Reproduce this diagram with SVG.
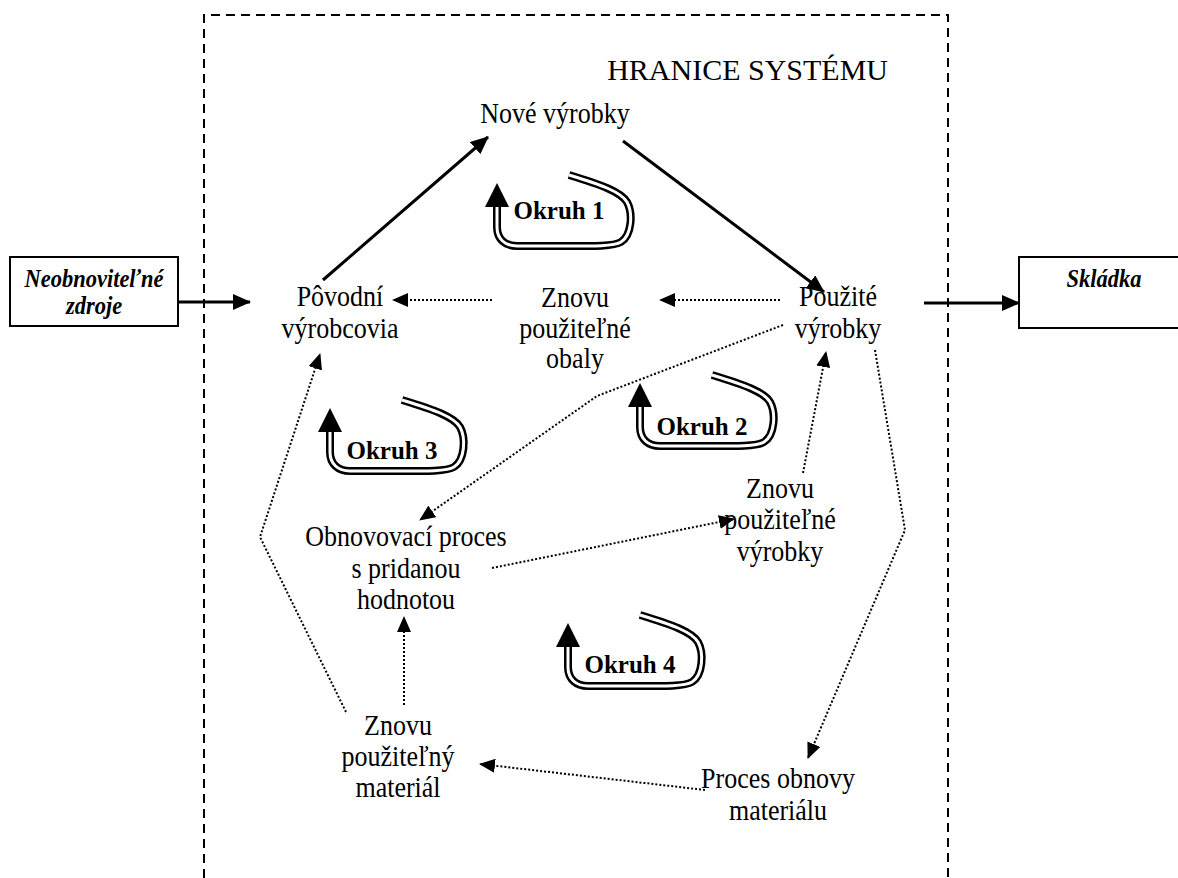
<svg xmlns="http://www.w3.org/2000/svg" xmlns:xlink="http://www.w3.org/1999/xlink" width="1178" height="878" viewBox="0 0 1178 878">
<style>
.n{font-family:"Liberation Serif","Times New Roman",serif;font-size:26px;fill:#000;text-anchor:middle}
.b{font-family:"Liberation Serif","Times New Roman",serif;font-size:22.5px;font-weight:bold;font-style:italic;fill:#000;text-anchor:middle}
.k{font-family:"Liberation Serif","Times New Roman",serif;font-size:25px;font-weight:bold;fill:#000;text-anchor:middle}
.t{font-family:"Liberation Serif","Times New Roman",serif;font-size:30px;fill:#000;text-anchor:end}
.solid{stroke:#000;stroke-width:3;fill:none}
.dot{stroke:#000;stroke-width:2;stroke-dasharray:2 2;fill:none}
.box{fill:#fff;stroke:#000;stroke-width:2}
.lo{stroke:#000;stroke-width:8;fill:none}
.li{stroke:#fff;stroke-width:3;fill:none}
</style>
<defs>
<marker id="ah" markerUnits="userSpaceOnUse" markerWidth="18" markerHeight="16" refX="17" refY="8" orient="auto"><path d="M0,0 L18,8 L0,16 z" fill="#000"/></marker>
<marker id="ad" markerUnits="userSpaceOnUse" markerWidth="16" markerHeight="14" refX="15" refY="7" orient="auto"><path d="M0,0 L16,7 L0,14 z" fill="#000"/></marker>
<path id="lp" d="M72,0 C105,10 124,17 130,27 C136,38 135,60 124,67 C116,72 96,71 20,71 C8,71 0,64 0,52 L0,31"/>
<g id="loop"><use xlink:href="#lp" class="lo"/><use xlink:href="#lp" class="li"/><path d="M0,8 L12,32 L-12,32 z" fill="#000"/></g>
</defs>
<rect width="1178" height="878" fill="#fff"/>
<g id="boundary"><path d="M204,878 V15 H948 V878" fill="none" stroke="#000" stroke-width="2" stroke-dasharray="9 6"/><text class="t" x="888" y="80">HRANICE SYSTÉMU</text></g>
<g id="connectors">
<line class="solid" x1="178" y1="302" x2="250" y2="302" marker-end="url(#ah)"/>
<line class="solid" x1="924" y1="303" x2="1019" y2="303" marker-end="url(#ah)"/>
<line class="solid" x1="323" y1="280" x2="488" y2="137" marker-end="url(#ah)"/>
<line class="solid" x1="623" y1="141" x2="824" y2="292" marker-end="url(#ah)"/>
<line class="dot" x1="492" y1="300" x2="393" y2="300" marker-end="url(#ad)"/>
<line class="dot" x1="780" y1="300" x2="660" y2="300" marker-end="url(#ad)"/>
<polyline class="dot" points="783,325 597,396 420,520" marker-end="url(#ad)"/>
<line class="dot" x1="492" y1="568" x2="734" y2="519" marker-end="url(#ad)"/>
<line class="dot" x1="803" y1="473" x2="826" y2="352" marker-end="url(#ad)"/>
<polyline class="dot" points="875,350 905,530 808,758" marker-end="url(#ad)"/>
<line class="dot" x1="705" y1="790" x2="480" y2="764" marker-end="url(#ad)"/>
<line class="dot" x1="404" y1="705" x2="404" y2="617" marker-end="url(#ad)"/>
<polyline class="dot" points="346,712 260,537 320,354" marker-end="url(#ad)"/>
</g>
<g id="n-zdroje"><rect class="box" x="10" y="257" width="168" height="69"/><text class="b" transform="translate(94,287) scale(1,1.1)"><tspan x="0" y="0">Neobnoviteľné</tspan><tspan x="0" y="24.5">zdroje</tspan></text></g>
<g id="n-skladka"><rect class="box" x="1019" y="257" width="170" height="71"/><text class="b" transform="translate(1104,287) scale(1,1.1)" x="0" y="0">Skládka</text></g>
<g id="n-nove"><text class="n" transform="translate(555,123) scale(1,1.1)" x="0" y="0">Nové výrobky</text></g>
<g id="n-povodni"><text class="n" transform="translate(340,306) scale(1,1.1)"><tspan x="0" y="0">Pôvodní</tspan><tspan x="0" y="29">výrobcovia</tspan></text></g>
<g id="n-obaly"><text class="n" transform="translate(575,307) scale(1,1.1)"><tspan x="0" y="0">Znovu</tspan><tspan x="0" y="28">použiteľné</tspan><tspan x="0" y="55.5">obaly</tspan></text></g>
<g id="n-pouzite"><text class="n" transform="translate(838,306) scale(1,1.1)"><tspan x="0" y="0">Použité</tspan><tspan x="0" y="29">výrobky</tspan></text></g>
<g id="n-vyrobky"><text class="n" transform="translate(780,498) scale(1,1.1)"><tspan x="0" y="0">Znovu</tspan><tspan x="0" y="28">použiteľné</tspan><tspan x="0" y="57">výrobky</tspan></text></g>
<g id="n-obnovovaci"><text class="n" transform="translate(406,546) scale(1,1.1)"><tspan x="0" y="0">Obnovovací proces</tspan><tspan x="0" y="29">s pridanou</tspan><tspan x="0" y="57">hodnotou</tspan></text></g>
<g id="n-material"><text class="n" transform="translate(398,735) scale(1,1.1)"><tspan x="0" y="0">Znovu</tspan><tspan x="0" y="28">použiteľný</tspan><tspan x="0" y="56">materiál</tspan></text></g>
<g id="n-proces"><text class="n" transform="translate(778,788) scale(1,1.1)"><tspan x="0" y="0">Proces obnovy</tspan><tspan x="0" y="29">materiálu</tspan></text></g>
<g id="okruh1"><use xlink:href="#loop" transform="translate(497,175)"/><text class="k" x="559" y="219">Okruh 1</text></g>
<g id="okruh2"><use xlink:href="#loop" transform="translate(640,375)"/><text class="k" x="702" y="435">Okruh 2</text></g>
<g id="okruh3"><use xlink:href="#loop" transform="translate(330,400)"/><text class="k" x="392" y="459">Okruh 3</text></g>
<g id="okruh4"><use xlink:href="#loop" transform="translate(568,615)"/><text class="k" x="630" y="673">Okruh 4</text></g>
</svg>
